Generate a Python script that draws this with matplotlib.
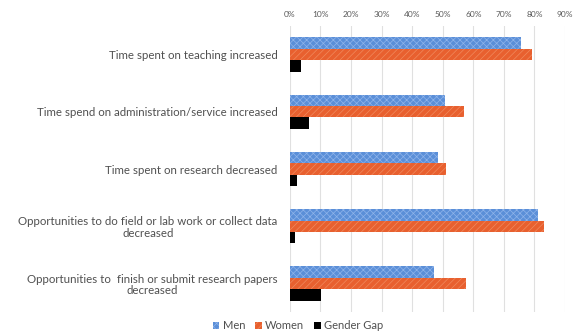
import numpy as np
import matplotlib
matplotlib.use("Agg")
import matplotlib.pyplot as plt

categories = ["Time spent on teaching increased",
              "Time spend on administration/service increased",
              "Time spent on research decreased",
              "Opportunities to do field or lab work or collect data\ndecreased",
              "Opportunities to  finish or submit research papers\ndecreased"]
men = [75.6, 50.8, 48.3, 81.3, 47.3]
women = [79.2, 57.1, 51.0, 83.0, 57.5]
gap = [3.5, 6.2, 2.4, 1.7, 10.2]
ticks = list(range(0, 100, 10))

plt.rcParams['font.family'] = ['Lato', 'DejaVu Sans']
plt.rcParams['hatch.linewidth'] = 0.5
fig = plt.figure(figsize=(5.73, 3.36), dpi=100)
ax = fig.add_axes([0.506, 0.071, 0.48, 0.852])

y = np.arange(len(categories))
h = 0.2
ax.barh(y - 0.2, men, height=h, color="#5b8fd8", edgecolor="#8fb4ea", hatch="xxxxx", lw=0, label="Men")
ax.barh(y, women, height=h, color="#e8602f", edgecolor="#f08a5e", hatch="/////", lw=0, label="Women")
ax.barh(y + 0.2, gap, height=h, color="black", lw=0, label="Gender Gap")

ax.set_xlim(0, 90)
ax.set_ylim(len(categories) - 0.5, -0.5)
ax.set_xticks(ticks)
ax.set_xticklabels([str(t) + "%" for t in ticks])
ax.xaxis.tick_top()
ax.tick_params(axis="x", length=0, labelsize=6, labelcolor="#595959", pad=6)
ax.set_yticks(y)
ax.set_yticklabels(categories, fontsize=8.3, color="#505050", ha="right",
                   multialignment="center", linespacing=1.05)
ax.tick_params(axis="y", length=0, pad=9)
ax.grid(axis="x", color="#e0e0e0", lw=0.8)
ax.set_axisbelow(True)
for s in ax.spines.values():
    s.set_visible(False)

fig.legend(loc="lower center", bbox_to_anchor=(0.52, -0.015), ncol=3, frameon=False,
           fontsize=8, handlelength=0.6, handleheight=0.6, handletextpad=0.3,
           columnspacing=0.9, labelcolor="#505050")

plt.savefig("out.png")
